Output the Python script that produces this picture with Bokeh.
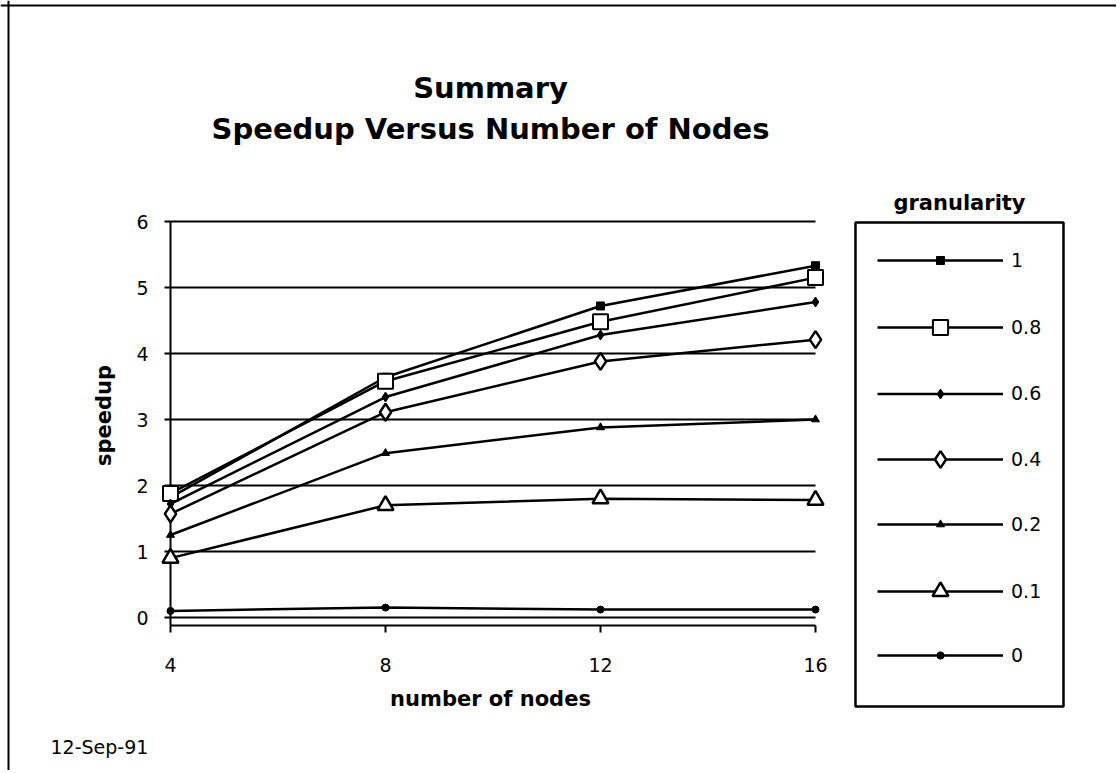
import math
from bokeh.plotting import figure
from bokeh.models import (Range1d, Legend, LegendItem, BoxAnnotation, Label, Span,
                          ColumnDataSource)
from bokeh.embed import file_html
from bokeh.resources import INLINE
from bokeh.core.properties import value

# ---------------- data ----------------
nodes = [4, 8, 12, 16]
granularity = ["1", "0.8", "0.6", "0.4", "0.2", "0.1", "0"]
speedup_g1 = [1.82, 3.64, 4.72, 5.33]
speedup_g08 = [1.88, 3.58, 4.48, 5.15]
speedup_g06 = [1.72, 3.34, 4.28, 4.78]
speedup_g04 = [1.57, 3.11, 3.88, 4.21]
speedup_g02 = [1.25, 2.49, 2.88, 3.00]
speedup_g01 = [0.90, 1.70, 1.80, 1.78]
speedup_g0 = [0.10, 0.15, 0.12, 0.12]
x_ticks = [4, 8, 12, 16]
x_tick_labels = ["4", "8", "12", "16"]
y_ticks = [0, 1, 2, 3, 4, 5, 6]
y_tick_labels = ["0", "1", "2", "3", "4", "5", "6"]
title_lines = ["Summary", "Speedup Versus Number of Nodes"]
x_label = "number of nodes"
y_label = "speedup"
legend_title = "granularity"
date_note = "12-Sep-91"

series = [speedup_g1, speedup_g08, speedup_g06, speedup_g04,
          speedup_g02, speedup_g01, speedup_g0]

# ---------------- layout / styles (pixels) ----------------
W, H = 1116, 770
PX_X0, PX_X1 = 170, 815      # where x = 4 and x = 16 fall
PX_Y0, PX_Y6 = 617, 221      # where y = 0 and y = 6 fall
AXIS_Y_PX = 625              # x-axis line
sx = (PX_X1 - PX_X0) / (x_ticks[-1] - x_ticks[0])
sy = (PX_Y0 - PX_Y6) / (y_ticks[-1] - y_ticks[0])
x_start = x_ticks[0] - PX_X0 / sx
x_end = x_ticks[0] + (W - PX_X0) / sx
y_start = -(H - PX_Y0) / sy
y_end = PX_Y0 / sy
axis_y = -(AXIS_Y_PX - PX_Y0) / sy

FONT = "DejaVu Sans"

styles = [
    dict(marker="square", size=8, fill="black", lw=1),
    dict(marker="square", size=15, fill="white", lw=2),
    dict(marker="diamond", size=10, fill="black", lw=1),
    dict(marker="diamond", size=17, fill="white", lw=2.5),
    dict(marker="triangle", size=8, fill="black", lw=1),
    dict(marker="triangle", size=16, fill="white", lw=2.5),
    dict(marker="circle", size=7, fill="black", lw=1),
]

p = figure(width=W, height=H, output_backend="svg", toolbar_location=None,
           x_range=Range1d(x_start, x_end), y_range=Range1d(y_start, y_end),
           x_axis_location=None, y_axis_location=None, min_border=0)
p.outline_line_color = None
p.background_fill_color = "white"
p.border_fill_color = "white"
p.grid.visible = False

# horizontal grid lines (one per y tick, spanning the x tick extent)
p.segment(x0=[x_ticks[0]] * len(y_ticks), x1=[x_ticks[-1]] * len(y_ticks),
          y0=y_ticks, y1=y_ticks, line_color="black", line_width=2)

# axes
p.segment(x0=[x_ticks[0]], x1=[x_ticks[0]], y0=[axis_y], y1=[y_ticks[-1]],
          line_color="black", line_width=2)
p.segment(x0=[x_ticks[0]], x1=[x_ticks[-1]], y0=[axis_y], y1=[axis_y],
          line_color="black", line_width=2)
p.ray(x=[x_ticks[0]] * len(y_ticks), y=y_ticks, length=6, length_units="screen",
      angle=math.pi, line_color="black", line_width=2)
p.ray(x=x_ticks, y=[axis_y] * len(x_ticks), length=7, length_units="screen",
      angle=-math.pi / 2, line_color="black", line_width=2)
p.text(x=[x_ticks[0]] * len(y_ticks), y=y_ticks, text=y_tick_labels, x_offset=-22,
       text_align="right", text_baseline="middle", text_font=value(FONT),
       text_font_size="19px", text_color="black")
p.text(x=x_ticks, y=[axis_y] * len(x_ticks), text=x_tick_labels, y_offset=39,
       text_align="center", text_baseline="middle", text_font=value(FONT),
       text_font_size="19px", text_color="black")

legend_cy = [261, 327, 393, 459, 525, 591, 657]  # legend rows, page px
LEG_GLYPH_X = 877

for lab, ys, st, cy in zip(granularity, series, styles, legend_cy):
    src = ColumnDataSource(dict(x=nodes, y=ys))
    rl = p.line("x", "y", source=src, line_color="black", line_width=2.5)
    rm = p.scatter("x", "y", source=src, marker=st["marker"], size=st["size"],
                   fill_color=st["fill"], line_color="black", line_width=st["lw"])
    h = int(round(st["size"] / 0.4))
    leg = Legend(items=[LegendItem(label=lab, renderers=[rl, rm])],
                 location=(LEG_GLYPH_X, H - (cy + h / 2)),
                 padding=0, margin=0, spacing=0,
                 border_line_color=None, background_fill_alpha=0,
                 glyph_width=126, glyph_height=h, label_height=h,
                 label_standoff=8, label_text_font=FONT, label_text_font_size="19px",
                 label_text_color="black")
    p.add_layout(leg)

# legend frame
p.add_layout(BoxAnnotation(left=855, right=1063, top=H - 222, bottom=H - 706,
                           left_units="screen", right_units="screen",
                           top_units="screen", bottom_units="screen",
                           fill_alpha=0, line_color="black", line_alpha=1.0,
                           line_width=2.5))
# outer page frame: left and top edges
p.add_layout(Span(location=8, location_units="screen", dimension="height",
                  line_color="black", line_width=2))
p.add_layout(Span(location=H - 5, location_units="screen", dimension="width",
                  line_color="black", line_width=2))


def add_text(txt, x, y, size, bold=False, align="center", angle=0.0):
    p.add_layout(Label(x=x, y=H - y, x_units="screen", y_units="screen", text=txt,
                       angle=angle, text_align=align, text_baseline="middle",
                       text_font=FONT, text_font_size=size,
                       text_font_style="bold" if bold else "normal",
                       text_color="black"))


add_text(title_lines[0], 490, 87, "29px", bold=True)
add_text(title_lines[1], 490, 128, "29px", bold=True)
add_text(legend_title, 959, 202, "21px", bold=True)
add_text(x_label, 490, 698, "21px", bold=True)
add_text(y_label, 103, 415, "21px", bold=True, angle=math.pi / 2)
add_text(date_note, 50, 746, "19px", align="left")

open("out.html", "w").write(file_html(p, INLINE))
